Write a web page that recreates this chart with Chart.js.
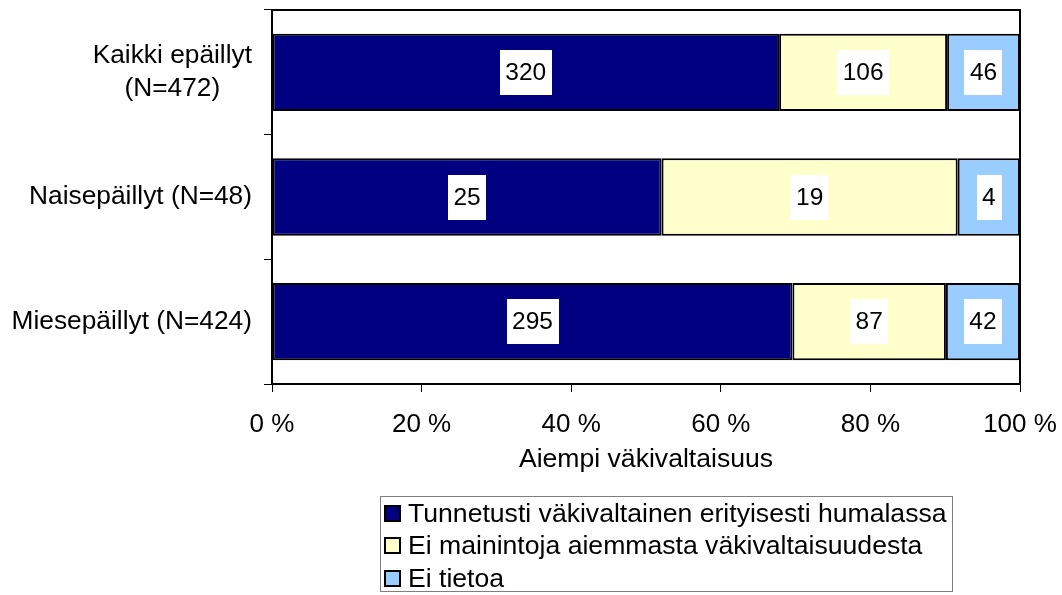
<!DOCTYPE html>
<html>
<head>
<meta charset="utf-8">
<script src="https://cdn.jsdelivr.net/npm/chart.js@4.4.1/dist/chart.umd.min.js"></script>
<style>
  html, body { margin: 0; padding: 0; background: #fff; }
  #wrap { position: relative; width: 1062px; height: 595px; }
  canvas { position: absolute; left: 0; top: 0; }
  #legend { position: absolute; left: 380px; top: 496px; width: 573px; height: 96px;
            border: 1px solid #7f7f7f; box-sizing: border-box; font-family: "Liberation Sans", Arial, sans-serif;
            font-size: 26.6px; color: #000; padding-top: 0px; white-space: nowrap; }
  .item { display: flex; align-items: center; height: 32.5px; }
  .sw { width: 13px; height: 13px; border: 2px solid #000; margin-left: 3px; margin-right: 7px; flex: none; }
</style>
</head>
<body>
<div id="wrap">
  <canvas id="c" width="1062" height="595"></canvas>
  <div id="legend"></div>
</div>
<script>
// ---- data ----
const categories = [["Kaikki epäillyt", "(N=472)"], "Naisepäillyt (N=48)", "Miesepäillyt (N=424)"];
const seriesNames = ["Tunnetusti väkivaltainen erityisesti humalassa", "Ei mainintoja aiemmasta väkivaltaisuudesta", "Ei tietoa"];
const tunnetusti = [320, 25, 295];
const eiMainintoja = [106, 19, 87];
const eiTietoa = [46, 4, 42];
const xTicks = [0, 20, 40, 60, 80, 100];
const xTitle = "Aiempi väkivaltaisuus";
const colors = ["#000080", "#FFFFCC", "#99CCFF"];

const counts = [tunnetusti, eiMainintoja, eiTietoa];
const totals = categories.map((_, i) => counts.reduce((s, a) => s + a[i], 0));
const pct = counts.map(a => a.map((v, i) => v / totals[i] * 100));

const FONT = '"Liberation Sans", Arial, sans-serif';

const labelsPlugin = {
  id: 'boxLabels',
  afterDatasetsDraw(chart) {
    const ctx = chart.ctx;
    ctx.save();
    ctx.font = '24.5px ' + FONT;
    ctx.textAlign = 'center';
    ctx.textBaseline = 'middle';
    chart.data.datasets.forEach((ds, di) => {
      const meta = chart.getDatasetMeta(di);
      meta.data.forEach((bar, i) => {
        const cx = (bar.x + bar.base) / 2;
        const cy = bar.y;
        const txt = String(counts[di][i]);
        const w = ctx.measureText(txt).width + 11;
        const h = 45;
        ctx.fillStyle = '#fff';
        ctx.fillRect(Math.round(cx - w / 2), Math.round(cy - h / 2), Math.round(w), h);
        ctx.fillStyle = '#000';
        ctx.fillText(txt, cx, cy + 1);
      });
    });
    ctx.restore();
  }
};

const framePlugin = {
  id: 'frame',
  afterDraw(chart) {
    const { ctx, chartArea: a, scales } = chart;
    ctx.save();
    ctx.strokeStyle = '#000';
    ctx.lineWidth = 2;
    ctx.beginPath();
    ctx.moveTo(a.left, a.top);
    ctx.lineTo(a.right, a.top);
    ctx.lineTo(a.right, a.bottom);
    ctx.stroke();
    // y category labels: block right-aligned, lines centered within block
    ctx.font = '26.3px ' + FONT;
    ctx.fillStyle = '#000';
    ctx.textBaseline = 'middle';
    ctx.textAlign = 'center';
    const y = scales.y;
    const rightEdge = a.left - 20;
    const lh = 33;
    categories.forEach((lab, i) => {
      const lines = Array.isArray(lab) ? lab : [lab];
      const bw = Math.max(...lines.map(l => ctx.measureText(l).width));
      const cx = rightEdge - bw / 2;
      const cy = y.getPixelForValue(i);
      lines.forEach((l, k) => {
        ctx.fillText(l, cx, cy + (k - (lines.length - 1) / 2) * lh);
      });
    });
    ctx.restore();
  }
};

const chart = new Chart(document.getElementById('c'), {
  type: 'bar',
  data: {
    labels: categories,
    datasets: seriesNames.map((n, k) => ({
      label: n,
      data: pct[k],
      backgroundColor: colors[k],
      borderColor: '#000',
      borderWidth: 2,
      borderSkipped: false,
      barPercentage: 0.62,
      categoryPercentage: 1.0
    }))
  },
  options: {
    indexAxis: 'y',
    responsive: false,
    animation: false,
    layout: { padding: { left: 0, top: 10, right: 42, bottom: 118 } },
    plugins: { legend: { display: false }, tooltip: { enabled: false } },
    scales: {
      x: {
        stacked: true, min: 0, max: 100,
        afterBuildTicks: s => { s.ticks = xTicks.map(v => ({ value: v })); },
        afterFit: s => { s.height = 93; s.paddingLeft = 0; s.paddingRight = 0; },
        ticks: { callback: v => v + ' %', font: { family: FONT, size: 26 }, color: '#000', padding: 17, maxRotation: 0 },
        grid: { drawOnChartArea: false, tickLength: 8, color: '#000', lineWidth: 1 },
        border: { display: true, color: '#000', width: 2 },
        title: { display: true, text: xTitle, font: { family: FONT, size: 26.6 }, color: '#000', padding: { top: 0, bottom: 1 } }
      },
      y: {
        stacked: true,
        afterFit: s => { s.width = 272; },
        ticks: { display: false },
        grid: { drawOnChartArea: false, offset: true, tickLength: 8, color: '#000', lineWidth: 1 },
        border: { display: true, color: '#000', width: 2 }
      }
    }
  },
  plugins: [labelsPlugin, framePlugin]
});

// HTML legend built from the chart's datasets
const lg = document.getElementById('legend');
chart.data.datasets.forEach(ds => {
  const it = document.createElement('div'); it.className = 'item';
  const sw = document.createElement('span'); sw.className = 'sw'; sw.style.background = ds.backgroundColor;
  const tx = document.createElement('span'); tx.textContent = ds.label;
  it.appendChild(sw); it.appendChild(tx); lg.appendChild(it);
});
</script>
</body>
</html>
